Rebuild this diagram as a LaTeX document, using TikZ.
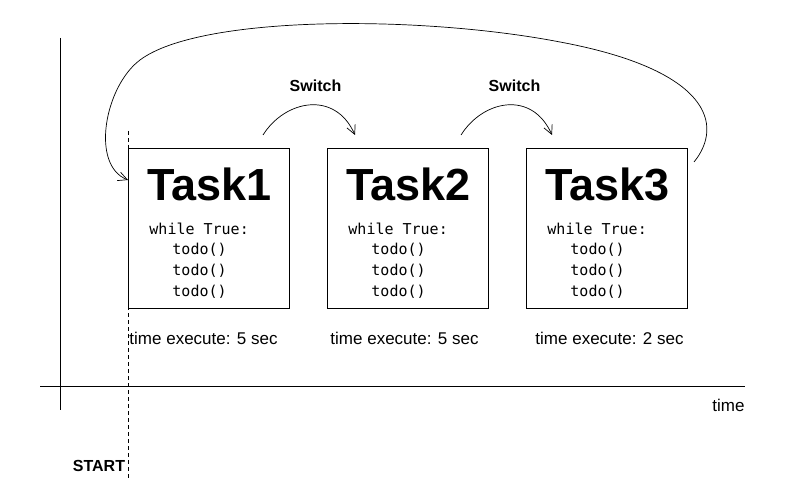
\documentclass[tikz,border=0pt]{standalone}
\usepackage{fontspec}
\setmainfont{Liberation Sans}
\newfontfamily\codefont{DejaVu Sans Mono}
\usetikzlibrary{arrows.meta}
\begin{document}
\begin{tikzpicture}[x=1pt,y=-1pt,
  line width=0.9pt,
  taskbox/.style={draw, minimum width=161pt, minimum height=160pt, inner sep=0pt},
  tasktitle/.style={font=\fontsize{45}{45}\selectfont\bfseries, inner sep=0pt, anchor=base},
  code/.style={font=\fontsize{15}{20.6}\selectfont\codefont, inner sep=0pt, anchor=base west, align=left},
  timelbl/.style={font=\fontsize{17}{17}\selectfont, inner sep=0pt, anchor=base},
  boldlbl/.style={font=\fontsize{16}{16}\selectfont\bfseries, inner sep=0pt, anchor=base},
  arr/.style={-{Straight Barb[length=9pt,width=9pt]}, line width=0.7pt},
  axis/.style={line width=1pt}]
\useasboundingbox (0,0) rectangle (786,502);
% axes
\coordinate (ytop) at (60,38);
\coordinate (ybot) at (60,410);
\coordinate (xl) at (40,386);
\coordinate (xr) at (745,386);
\draw[axis] (ytop) -- (ybot);
\draw[axis] (xl) -- (xr);
\node[timelbl, anchor=base east] (timelab) at (745,411) {time};
% start dashed line
\coordinate (dtop) at (128,131);
\coordinate (dbot) at (128,480);
\draw[line width=0.8pt, dash pattern=on 4pt off 3pt] (dtop) -- (dbot);
\node[boldlbl, anchor=base east] (start) at (125.5,471) {START};
% boxes
\node[taskbox] (t1) at (208.5,228) {};
\node[taskbox] (t2) at (407.5,228) {};
\node[taskbox] (t3) at (606.5,228) {};
\foreach \b/\n/\x in {t1/1/209.5, t2/2/408.5, t3/3/607.5}{
  \node[tasktitle] (title\n) at (\x,201) {Task\n};
  \node[code] (code\n) at (\x-60.5,296) {while True:\\\hspace*{23pt}todo()\\\hspace*{23pt}todo()\\\hspace*{23pt}todo()};
}
\node[timelbl] (time1) at (203.5,344) {time execute: 5 sec};
\node[timelbl] (time2) at (404.5,344) {time execute: 5 sec};
\node[timelbl] (time3) at (609.5,344) {time execute: 2 sec};
% switch labels
\node[boldlbl] (sw1) at (315.5,92) {Switch};
\node[boldlbl] (sw2) at (514.5,92) {Switch};
% switch arrows
\coordinate (s1a) at (263,135);
\coordinate (s1b) at (355,135);
\coordinate (s2a) at (461,135);
\coordinate (s2b) at (552,135);
\draw[arr] (s1a) .. controls (285,100) and (335,90) .. (s1b);
\draw[arr] (s2a) .. controls (483,100) and (532,90) .. (s2b);
% big loop back
\coordinate (la) at (694,162);
\coordinate (lm1) at (560,42);
\coordinate (lm2) at (140,60);
\coordinate (lb) at (128,180);
\draw[arr] (la) .. controls (724,125) and (710,70) .. (lm1)
  .. controls (420,15) and (200,15) .. (lm2)
  .. controls (105,86) and (90,165) .. (lb);
\end{tikzpicture}
\end{document}
